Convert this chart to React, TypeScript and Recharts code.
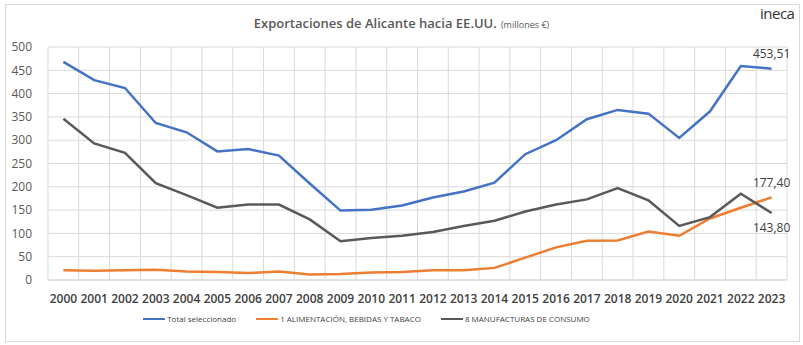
import React from "react";
import {
  LineChart,
  Line,
  XAxis,
  YAxis,
  CartesianGrid,
  Legend,
} from "recharts";

const YEARS = [
  "2000", "2001", "2002", "2003", "2004", "2005", "2006", "2007", "2008", "2009", "2010", "2011",
  "2012", "2013", "2014", "2015", "2016", "2017", "2018", "2019", "2020", "2021", "2022", "2023",
];
const TOTAL = [
  468, 429, 412, 337, 317, 276, 281, 267, 207, 149, 151, 160,
  177, 190, 209, 270, 300, 345, 365, 357, 305, 362, 459, 453.51,
];
const FOOD = [
  21, 20, 21, 22, 18, 17, 15, 18, 12, 13, 16, 17,
  21, 21, 26, 48, 70, 84, 85, 104, 95, 132, 155, 177.4,
];
const MANUF = [
  346, 293, 273, 208, 182, 155, 162, 162, 130, 83, 90, 95,
  103, 116, 127, 147, 162, 173, 197, 171, 116, 135, 185, 143.8,
];
const Y_TICKS = [0, 50, 100, 150, 200, 250, 300, 350, 400, 450, 500];

const SERIES = [
  { key: "total", name: "Total seleccionado", color: "#4472C4", labelDy: -14 },
  { key: "food", name: "1 ALIMENTACIÓN, BEBIDAS Y TABACO", color: "#ED7D31", labelDy: -14 },
  { key: "manuf", name: "8 MANUFACTURAS DE CONSUMO", color: "#595959", labelDy: 16 },
];

const data = YEARS.map((year, i) => ({
  year,
  total: TOTAL[i],
  food: FOOD[i],
  manuf: MANUF[i],
}));

const FONT = "'Open Sans', 'Noto Sans', sans-serif";
const fmt = (v: number) => v.toFixed(2).replace(".", ",");

function lastLabel(dy: number) {
  return (props: any) => {
    const { x, y, value, index } = props;
    if (index !== YEARS.length - 1) return null;
    return (
      <text
        x={x}
        y={y + dy}
        textAnchor="middle"
        dominantBaseline="middle"
        fontSize={12}
        fontFamily={FONT}
        fill="#404040"
      >
        {fmt(value)}
      </text>
    );
  };
}

function LegendContent() {
  return (
    <div
      style={{
        display: "flex",
        justifyContent: "center",
        gap: 20,
        fontFamily: FONT,
        fontSize: 8,
        color: "#404040",
      }}
    >
      {SERIES.map((s) => (
        <span key={s.key} style={{ display: "flex", alignItems: "center" }}>
          <span
            style={{
              display: "inline-block",
              width: 22,
              height: 2,
              background: s.color,
              marginRight: 2,
            }}
          />
          {s.name}
        </span>
      ))}
    </div>
  );
}

export default function App() {
  return (
    <div
      style={{
        position: "absolute",
        left: 0,
        top: 0,
        width: 803,
        height: 345,
        background: "#fff",
      }}
    >
      <div
        style={{
          position: "absolute",
          left: 5,
          top: 4,
          width: 793,
          height: 336,
          border: "1px solid #d9d9d9",
        }}
      />
      <div
        style={{
          position: "absolute",
          top: 11,
          left: 0,
          width: 803,
          textAlign: "center",
          fontFamily: FONT,
          color: "#595959",
        }}
      >
        <span style={{ fontSize: 13, fontWeight: 600 }}>
          Exportaciones de Alicante hacia EE.UU.
        </span>{" "}
        <span style={{ fontSize: 9 }}>(millones €)</span>
      </div>
      <div
        style={{
          position: "absolute",
          top: 3,
          left: 760,
          fontFamily: FONT,
          fontSize: 15,
          color: "#333",
          letterSpacing: -0.5,
        }}
      >
        ineca
      </div>
      <LineChart
        width={803}
        height={345}
        data={data}
        margin={{ top: 47, right: 16, bottom: 20, left: 0 }}
        style={{ position: "absolute", left: 0, top: 0 }}
      >
        <CartesianGrid
          stroke="#d9d9d9"
          verticalCoordinatesGenerator={({ offset }: any) =>
            Array.from({ length: YEARS.length + 1 }, (_, i) => offset.left + (i * offset.width) / YEARS.length)
          }
        />
        <XAxis
          dataKey="year"
          padding={{ left: 15.4, right: 15.4 }}
          tickLine={false}
          axisLine={{ stroke: "#d9d9d9" }}
          interval={0}
          tick={{ fontSize: 12, fill: "#404040", fontFamily: FONT, fontWeight: 600 }}
          tickMargin={8}
          height={27}
        />
        <YAxis
          domain={[0, 500]}
          ticks={Y_TICKS}
          width={48}
          tickLine={false}
          axisLine={false}
          tick={{ fontSize: 12, fill: "#595959", fontFamily: FONT }}
          tickMargin={10}
        />
        <Legend
          verticalAlign="bottom"
          height={18}
          content={<LegendContent />}
          wrapperStyle={{ left: 0, width: 733, top: 313, bottom: "auto" }}
        />
        {SERIES.map((s) => (
          <Line
            key={s.key}
            dataKey={s.key}
            name={s.name}
            stroke={s.color}
            strokeWidth={2.5}
            dot={false}
            activeDot={false}
            isAnimationActive={false}
            label={lastLabel(s.labelDy)}
          />
        ))}
      </LineChart>
    </div>
  );
}
